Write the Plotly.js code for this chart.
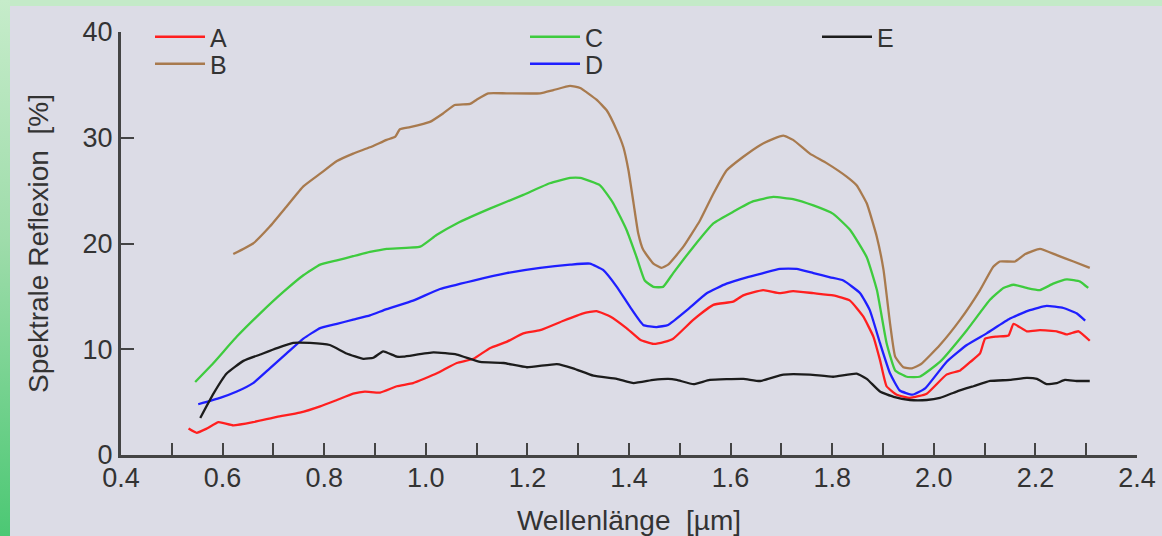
<!DOCTYPE html>
<html>
<head>
<meta charset="utf-8">
<script src="https://cdn.plot.ly/plotly-3.0.1.min.js"></script>
<style>
html,body{margin:0;padding:0;}
#wrap{position:relative;width:1162px;height:536px;overflow:hidden;background:#c4eac8;}
#left{position:absolute;left:0;top:0;width:10px;height:536px;background:linear-gradient(to bottom,#c6ecca 0%,#9edcaa 45%,#4cc874 100%);}
#inner{position:absolute;left:10px;top:6px;right:0;bottom:0;background:#dcdce6;}
#chart{position:absolute;left:0;top:0;width:1162px;height:536px;}
</style>
</head>
<body>
<div id="wrap"><div id="left"></div><div id="inner"></div><div id="chart"></div></div>
<script>
// Wavelength [µm] and spectral reflectance [%] for each series
const seriesNames = ['A', 'B', 'C', 'D', 'E'];

const lamA = [0.533,0.549,0.569,0.592,0.621,0.660,0.707,0.752,0.792,0.825,0.857,0.880,0.910,0.943,0.975,1.021,1.061,1.094,1.126,1.159,1.192,1.225,1.271,1.310,1.336,1.363,1.395,1.422,1.448,1.470,1.487,1.527,1.566,1.605,1.625,1.664,1.697,1.723,1.763,1.802,1.835,1.861,1.881,1.894,1.907,1.927,1.953,1.986,2.025,2.052,2.072,2.091,2.101,2.124,2.147,2.157,2.183,2.209,2.242,2.262,2.285,2.307];
const refA = [2.5,2.1,2.5,3.1,2.8,3.1,3.6,4.0,4.6,5.2,5.8,6.0,5.9,6.5,6.8,7.7,8.7,9.1,10.1,10.7,11.5,11.8,12.7,13.4,13.6,13.1,12.0,10.9,10.5,10.7,11.0,12.8,14.2,14.5,15.1,15.6,15.3,15.5,15.3,15.1,14.6,13.1,11.2,9.0,6.5,5.7,5.4,5.8,7.6,8.0,8.8,9.6,11.0,11.2,11.3,12.4,11.7,11.8,11.7,11.4,11.7,10.8];

const lamB = [0.621,0.660,0.693,0.726,0.759,0.792,0.825,0.857,0.890,0.923,0.940,0.949,0.969,1.008,1.034,1.057,1.087,1.100,1.123,1.159,1.225,1.251,1.284,1.304,1.336,1.356,1.376,1.389,1.399,1.409,1.418,1.428,1.448,1.464,1.477,1.507,1.540,1.566,1.592,1.625,1.658,1.684,1.704,1.723,1.756,1.789,1.829,1.848,1.868,1.888,1.901,1.914,1.924,1.940,1.957,1.975,2.012,2.052,2.091,2.117,2.130,2.160,2.180,2.209,2.242,2.275,2.307];
const refB = [19.0,20.0,21.6,23.5,25.4,26.6,27.8,28.5,29.1,29.8,30.1,30.8,31.0,31.5,32.3,33.1,33.2,33.6,34.2,34.2,34.2,34.5,34.9,34.7,33.6,32.6,30.7,29.1,26.9,23.8,21.0,19.4,18.1,17.7,18.0,19.7,22.2,24.7,26.9,28.2,29.3,29.9,30.2,29.8,28.5,27.6,26.3,25.5,23.8,20.6,17.5,12.4,9.3,8.3,8.2,8.6,10.4,12.8,15.6,17.8,18.3,18.3,19.0,19.5,18.9,18.3,17.7];

const lamC = [0.546,0.582,0.628,0.674,0.719,0.759,0.792,0.825,0.857,0.890,0.923,0.989,1.021,1.061,1.126,1.192,1.244,1.284,1.304,1.343,1.369,1.395,1.415,1.431,1.448,1.467,1.487,1.527,1.566,1.605,1.645,1.684,1.723,1.763,1.802,1.835,1.868,1.888,1.907,1.924,1.947,1.972,2.012,2.065,2.111,2.137,2.157,2.183,2.209,2.235,2.262,2.288,2.304];
const refC = [6.9,8.7,11.2,13.4,15.4,17.0,18.0,18.4,18.8,19.2,19.5,19.7,20.8,21.9,23.3,24.6,25.7,26.2,26.2,25.5,23.8,21.3,18.7,16.5,15.9,15.9,17.2,19.7,21.9,23.0,24.0,24.4,24.2,23.6,22.8,21.3,18.7,15.6,10.6,8.0,7.4,7.4,8.8,11.8,14.7,15.8,16.1,15.8,15.6,16.2,16.6,16.4,15.8];

const lamD = [0.552,0.595,0.628,0.660,0.693,0.726,0.759,0.792,0.825,0.857,0.890,0.923,0.975,1.028,1.094,1.159,1.225,1.284,1.323,1.349,1.376,1.402,1.428,1.454,1.477,1.514,1.553,1.592,1.632,1.664,1.697,1.730,1.763,1.796,1.822,1.855,1.874,1.894,1.914,1.933,1.958,1.983,2.025,2.065,2.104,2.150,2.189,2.222,2.255,2.281,2.298];
const refD = [4.8,5.4,6.0,6.8,8.2,9.6,11.0,12.0,12.4,12.8,13.2,13.8,14.6,15.7,16.5,17.2,17.7,18.0,18.1,17.5,15.9,14.0,12.3,12.1,12.3,13.7,15.3,16.2,16.8,17.2,17.6,17.6,17.2,16.8,16.5,15.3,13.7,10.6,7.7,6.1,5.7,6.3,8.8,10.4,11.5,12.9,13.7,14.1,13.9,13.4,12.7];

const lamE = [0.556,0.582,0.608,0.641,0.674,0.707,0.739,0.772,0.811,0.844,0.877,0.897,0.916,0.943,0.956,1.015,1.061,1.107,1.153,1.199,1.258,1.290,1.330,1.376,1.409,1.448,1.477,1.494,1.527,1.559,1.625,1.658,1.704,1.756,1.802,1.848,1.868,1.894,1.921,1.953,1.986,2.012,2.045,2.078,2.111,2.150,2.183,2.203,2.222,2.242,2.258,2.281,2.307];
const refE = [3.5,5.8,7.7,8.9,9.5,10.1,10.6,10.6,10.4,9.6,9.1,9.2,9.8,9.3,9.3,9.7,9.5,8.8,8.7,8.3,8.6,8.2,7.5,7.2,6.8,7.1,7.2,7.1,6.7,7.1,7.2,7.0,7.6,7.6,7.4,7.7,7.2,6.0,5.5,5.2,5.2,5.4,6.0,6.5,7.0,7.1,7.3,7.2,6.7,6.8,7.1,7.0,7.0];

const xTickVals = [0.4,0.6,0.8,1.0,1.2,1.4,1.6,1.8,2.0,2.2,2.4];
const xTickText = ['0.4','0.6','0.8','1.0','1.2','1.4','1.6','1.8','2.0','2.2','2.4'];
const yTickVals = [0,10,20,30,40];
const yTickText = ['0','10','20','30','40'];

const xTitle = 'Wellenlänge\u00a0 [µm]';
const yTitle = 'Spektrale Reflexion\u00a0 [%]';

const colors = ['#ff1f1f', '#a87a4e', '#3ecb3e', '#1f1fff', '#1c1c1c'];
const xs = [lamA, lamB, lamC, lamD, lamE];
const ys = [refA, refB, refC, refD, refE];
const legendIds = ['legend', 'legend2', 'legend3', 'legend4', 'legend5'];

const traces = seriesNames.map((n, i) => ({
  type: 'scatter', mode: 'lines', name: n,
  x: xs[i], y: ys[i],
  line: {color: colors[i], width: 2.3, shape: 'spline', smoothing: 0.4},
  legend: legendIds[i],
  hoverinfo: 'skip'
}));

const fontFam = '"Liberation Sans", Arial, sans-serif';
const L = 121, R = 25, T = 32, B = 81;
const W = 1162, H = 536;
const pw = W - L - R, ph = H - T - B;
function lx(px) { return (px - L) / pw; }
function ly(py) { return (H - B - py) / ph; }

function mkLegend(px, py) {
  return {
    x: lx(px), y: ly(py), xanchor: 'left', yanchor: 'middle',
    bgcolor: 'rgba(0,0,0,0)', borderwidth: 0,
    font: {family: fontFam, size: 25, color: '#333'},
    itemwidth: 50, itemclick: false, itemdoubleclick: false
  };
}

const layout = {
  width: W, height: H,
  margin: {l: L, r: R, t: T, b: B, pad: 0},
  paper_bgcolor: 'rgba(0,0,0,0)',
  plot_bgcolor: 'rgba(0,0,0,0)',
  font: {family: fontFam, color: '#333', size: 25},
  showlegend: true,
  legend: mkLegend(150, 37),
  legend2: mkLegend(150, 64),
  legend3: mkLegend(525, 37),
  legend4: mkLegend(525, 64),
  legend5: mkLegend(817, 37),
  xaxis: {
    range: [0.4, 2.4], tickvals: xTickVals, ticktext: xTickText,
    ticks: 'inside', ticklen: 12, tickwidth: 2, tickcolor: '#444',
    showline: true, linecolor: '#444', linewidth: 3,
    showgrid: false, zeroline: false,
    ticklabelstandoff: -3,
    tickfont: {family: fontFam, size: 27, color: '#333'},
    minor: {dtick: 0.1, tick0: 0.4, ticks: 'inside', ticklen: 12, tickwidth: 2, tickcolor: '#444', showgrid: false},
    title: {text: xTitle, font: {family: fontFam, size: 28, color: '#333'}, standoff: 18},
    fixedrange: true
  },
  yaxis: {
    range: [0, 40], tickvals: yTickVals, ticktext: yTickText,
    ticks: 'inside', ticklen: 13, tickwidth: 2, tickcolor: '#444',
    showline: true, linecolor: '#444', linewidth: 3,
    showgrid: false, zeroline: false,
    tickfont: {family: fontFam, size: 27, color: '#333'},
    title: {text: yTitle, font: {family: fontFam, size: 28, color: '#333'}, standoff: 26},
    fixedrange: true
  }
};

Plotly.newPlot('chart', traces, layout, {displayModeBar: false, staticPlot: true});
</script>
</body>
</html>
